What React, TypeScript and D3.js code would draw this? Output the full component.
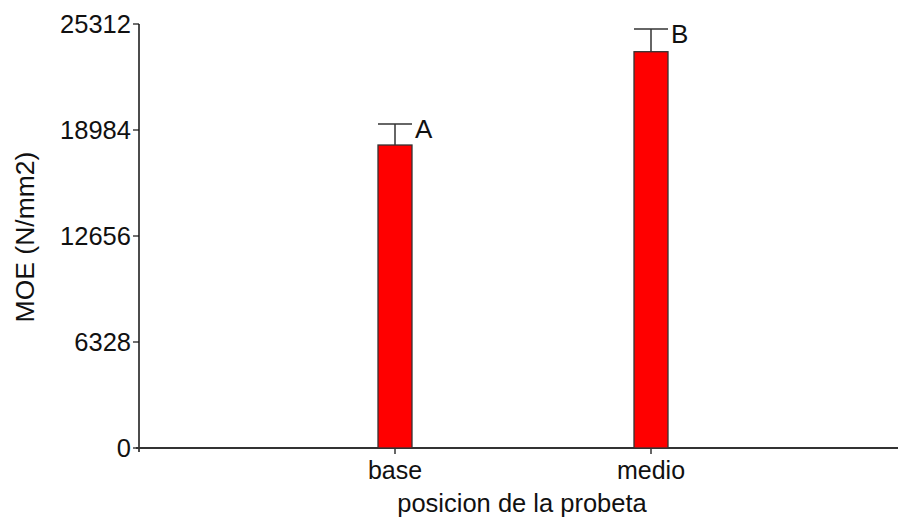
import React from "react";
import * as d3 from "d3";

const categories = ["base", "medio"];
const means = [18088, 23658];
const errorTops = [19342, 25013];
const groupLetters = ["A", "B"];
const yTicks = [0, 6328, 12656, 18984, 25312];

const W = 898;
const H = 517;
const FONT = "'Liberation Sans', Arial, sans-serif";

export default function App() {
  const y = d3.scaleLinear().domain([0, 25312]).range([448, 24]);
  const x = d3.scalePoint<string>().domain(categories).range([139, 907]).padding(1);
  const barW = 34;
  const axisColor = "#333";

  return (
    <svg
      width={W}
      height={H}
      style={{ position: "absolute", left: 0, top: 0, background: "#fff" }}
      fontFamily={FONT}
    >
      {/* y axis */}
      <line x1={139} x2={139} y1={y(25312)} y2={452} stroke="#111" strokeWidth={1.5} />
      {yTicks.map((t) => (
        <g key={t}>
          <line x1={133} x2={139} y1={y(t)} y2={y(t)} stroke="#111" strokeWidth={1.2} />
          <text x={131} y={y(t)} dy="0.35em" textAnchor="end" fontSize={25.5} fill="#111">
            {t}
          </text>
        </g>
      ))}
      {/* x axis */}
      <line x1={136} x2={W} y1={y(0)} y2={y(0)} stroke={axisColor} strokeWidth={2} />
      {categories.map((c) => (
        <g key={c}>
          <line x1={x(c)!} x2={x(c)!} y1={y(0)} y2={y(0) + 6} stroke={axisColor} strokeWidth={1.5} />
          <text x={x(c)!} y={479} textAnchor="middle" fontSize={25} fill="#111">
            {c}
          </text>
        </g>
      ))}
      {/* bars with error bars and group letters */}
      {categories.map((c, i) => {
        const cx = x(c)!;
        return (
          <g key={c}>
            <rect
              x={cx - barW / 2}
              y={y(means[i])}
              width={barW}
              height={y(0) - y(means[i])}
              fill="#ff0000"
              stroke="#333"
              strokeWidth={1.3}
            />
            <line x1={cx} x2={cx} y1={y(means[i])} y2={y(errorTops[i])} stroke="#333" strokeWidth={1.5} />
            <line
              x1={cx - barW / 2}
              x2={cx + barW / 2}
              y1={y(errorTops[i])}
              y2={y(errorTops[i])}
              stroke="#333"
              strokeWidth={1.5}
            />
            <text x={cx + barW / 2 + 3} y={y(errorTops[i]) + 14} fontSize={26} fill="#111">
              {groupLetters[i]}
            </text>
          </g>
        );
      })}
      {/* axis titles */}
      <text x={522} y={512} textAnchor="middle" fontSize={25.5} fill="#111">
        posicion de la probeta
      </text>
      <text
        transform="translate(34,237) rotate(-90)"
        textAnchor="middle"
        fontSize={26.5}
        fill="#111"
      >
        MOE (N/mm2)
      </text>
    </svg>
  );
}
